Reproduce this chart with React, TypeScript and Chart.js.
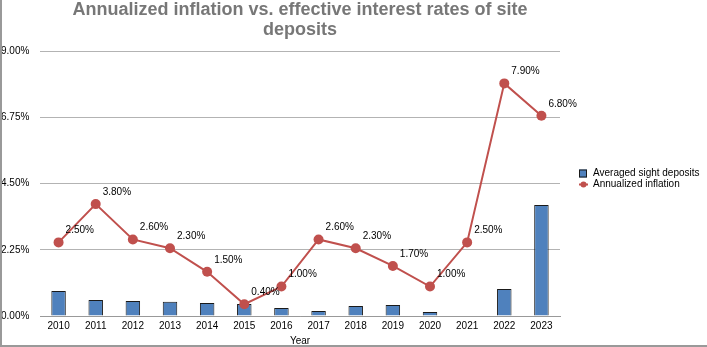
import React, { useEffect, useRef } from "react";
import { Chart, registerables } from "chart.js";

Chart.register(...registerables);

const years = ["2010","2011","2012","2013","2014","2015","2016","2017","2018","2019","2020","2021","2022","2023"];
const sightDeposits = [0.85, 0.54, 0.51, 0.48, 0.44, 0.41, 0.27, 0.17, 0.34, 0.37, 0.14, 0, 0.92, 3.77];
const inflation = [2.5, 3.8, 2.6, 2.3, 1.5, 0.4, 1.0, 2.6, 2.3, 1.7, 1.0, 2.5, 7.9, 6.8];
const yTicks = [0, 2.25, 4.5, 6.75, 9];
const titleLines = ["Annualized inflation vs. effective interest rates of site", "deposits"];
const legendLabels = ["Averaged sight deposits", "Annualized inflation"];

const BAR_COLOR = "#4f81bd";
const LINE_COLOR = "#c0504d";
const FONT = "'Liberation Sans', Arial, sans-serif";

const extrasPlugin = {
  id: "extras",
  afterDatasetsDraw(chart: any) {
    const ctx = chart.ctx;
    const meta = chart.getDatasetMeta(1);
    ctx.save();
    ctx.font = `10px ${FONT}`;
    ctx.fillStyle = "#000";
    ctx.textAlign = "left";
    ctx.textBaseline = "middle";
    meta.data.forEach((pt: any, i: number) => {
      ctx.fillText(inflation[i].toFixed(2) + "%", pt.x + 7, pt.y - 12);
    });
    ctx.restore();
  },
  afterDraw(chart: any) {
    const ctx = chart.ctx;
    const area = chart.chartArea;
    ctx.save();
    // legend
    const lx = area.right + 19;
    const ly = (area.top + area.bottom) / 2 - 10;
    ctx.fillStyle = BAR_COLOR;
    ctx.strokeStyle = "#1a1a1a";
    ctx.lineWidth = 1;
    ctx.fillRect(lx, ly - 4, 8, 8);
    ctx.strokeRect(lx + 0.5, ly - 3.5, 7, 7);
    ctx.strokeStyle = LINE_COLOR;
    ctx.lineWidth = 2;
    ctx.beginPath();
    ctx.moveTo(lx, ly + 11);
    ctx.lineTo(lx + 9, ly + 11);
    ctx.stroke();
    ctx.fillStyle = LINE_COLOR;
    ctx.beginPath();
    ctx.arc(lx + 4.5, ly + 11, 3, 0, Math.PI * 2);
    ctx.fill();
    ctx.fillStyle = "#000";
    ctx.font = `10px ${FONT}`;
    ctx.textAlign = "left";
    ctx.textBaseline = "middle";
    ctx.fillText(legendLabels[0], lx + 14, ly);
    ctx.fillText(legendLabels[1], lx + 14, ly + 11);
    // frame lines
    ctx.strokeStyle = "#999";
    ctx.lineWidth = 2;
    ctx.beginPath();
    ctx.moveTo(1, 0);
    ctx.lineTo(1, chart.height - 1);
    ctx.lineTo(chart.width, chart.height - 1);
    ctx.stroke();
    ctx.restore();
  },
};

export default function App() {
  const ref = useRef<HTMLCanvasElement | null>(null);
  useEffect(() => {
    if (!ref.current) return;
    const chart = new Chart(ref.current, {
      data: {
        labels: years,
        datasets: [
          {
            type: "bar",
            label: legendLabels[0],
            data: sightDeposits,
            backgroundColor: BAR_COLOR,
            borderColor: "#1a1a1a",
            borderWidth: 1,
            barPercentage: 0.39,
            categoryPercentage: 1,
            order: 1,
          },
          {
            type: "line",
            label: legendLabels[1],
            data: inflation,
            borderColor: LINE_COLOR,
            backgroundColor: LINE_COLOR,
            borderWidth: 2,
            pointRadius: 5,
            pointBackgroundColor: LINE_COLOR,
            pointBorderWidth: 0,
            tension: 0,
            order: 0,
          },
        ],
      } as any,
      options: {
        animation: false,
        responsive: false,
        maintainAspectRatio: false,
        layout: { padding: { left: 1, right: 147, top: 0, bottom: 0 } },
        plugins: {
          legend: { display: false },
          tooltip: { enabled: false },
          title: {
            display: true,
            text: titleLines,
            fullSize: false,
            color: "#777777",
            font: { family: FONT, size: 18, weight: "bold", lineHeight: 20 / 18 },
            padding: { top: 0, bottom: 11 },
          },
        },
        scales: {
          x: {
            grid: { display: false, drawTicks: false },
            border: { display: true, color: "#999", width: 1 },
            ticks: { color: "#000", font: { family: FONT, size: 10 }, padding: 4, maxRotation: 0, autoSkip: false },
            title: { display: true, text: "Year", color: "#000", font: { family: FONT, size: 10 }, padding: { top: 3, bottom: 0 } },
            afterFit: (s: any) => {
              s.height = 31;
            },
          },
          y: {
            min: 0,
            max: 9,
            afterBuildTicks: (axis: any) => {
              axis.ticks = yTicks.map((v) => ({ value: v }));
            },
            grid: { color: "#b3b3b3", drawTicks: false },
            border: { display: false },
            ticks: {
              color: "#000",
              font: { family: FONT, size: 10 },
              padding: 11,
              crossAlign: "far",
              callback: (v: any) => Number(v).toFixed(2) + "%",
            },
            afterFit: (s: any) => {
              s.width = 39;
            },
          },
        },
      } as any,
      plugins: [extrasPlugin],
    });
    return () => chart.destroy();
  }, []);
  return (
    <div style={{ position: "fixed", left: 0, top: 0, width: 707, height: 347, background: "#fff" }}>
      <canvas ref={ref} width={707} height={347} style={{ display: "block", width: 707, height: 347 }} />
    </div>
  );
}
